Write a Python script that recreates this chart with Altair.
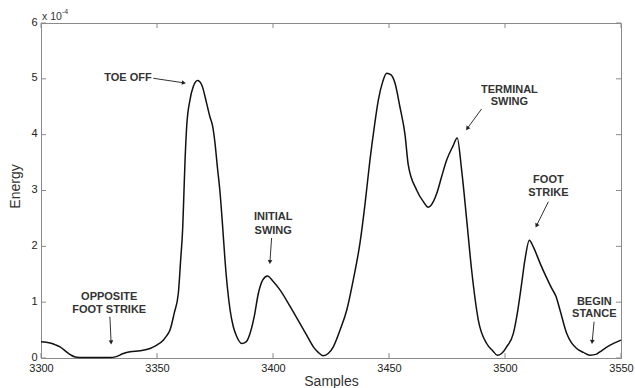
import math
import altair as alt
import pandas as pd

# ---- curve ----
samples = [3300.0, 3303.9, 3306.0, 3308.2, 3311.0, 3313.0, 3314.7, 3318.0, 3324.0, 3330.0,
           3332.0, 3335.5, 3338.4, 3342.7, 3347.0, 3349.9, 3352.7, 3354.2, 3355.6, 3357.4,
           3359.2, 3360.2, 3361.1, 3361.6, 3362.1, 3362.8, 3364.2, 3365.6, 3367.5, 3369.3,
           3371.4, 3372.8, 3374.0, 3375.0, 3376.0, 3377.2, 3378.3, 3379.3, 3380.3, 3381.5,
           3382.9, 3384.4, 3386.5, 3388.4, 3390.1, 3391.9, 3393.7, 3395.6, 3397.6, 3400.1,
           3403.0, 3407.3, 3411.6, 3414.5, 3417.4, 3419.5, 3421.7, 3423.8, 3426.0, 3428.9,
           3431.8, 3434.6, 3437.5, 3439.7, 3441.8, 3443.7, 3445.4, 3447.3, 3449.0, 3450.9,
           3452.6, 3454.7, 3456.9, 3458.3, 3461.9, 3464.8, 3466.9, 3469.1, 3470.6, 3472.7,
           3474.9, 3477.5, 3479.4, 3481.3, 3483.5, 3485.6, 3488.5, 3492.1, 3494.7, 3496.7,
           3498.5, 3500.7, 3503.6, 3505.3, 3507.2, 3508.6, 3510.5, 3512.2, 3515.1, 3518.0,
           3520.1, 3522.0, 3523.7, 3526.6, 3528.7, 3530.9, 3533.8, 3536.6, 3539.5, 3540.9,
           3545.3, 3550.0]
energy = [0.29, 0.27, 0.24, 0.20, 0.11, 0.05, 0.02, 0.01, 0.01, 0.01,
          0.02, 0.08, 0.11, 0.13, 0.17, 0.23, 0.32, 0.40, 0.50, 0.80,
          1.16, 1.76, 2.35, 2.95, 3.55, 4.15, 4.62, 4.86, 4.97, 4.89,
          4.56, 4.32, 4.15, 3.85, 3.43, 2.95, 2.35, 1.76, 1.28, 0.86,
          0.56, 0.38, 0.26, 0.29, 0.44, 0.74, 1.16, 1.40, 1.47, 1.37,
          1.22, 0.93, 0.62, 0.41, 0.20, 0.10, 0.04, 0.08, 0.20, 0.50,
          0.86, 1.40, 2.06, 2.77, 3.55, 4.15, 4.62, 4.95, 5.10, 5.07,
          4.92, 4.50, 4.00, 3.46, 3.01, 2.80, 2.70, 2.80, 2.95, 3.25,
          3.55, 3.79, 3.94, 3.37, 2.47, 1.58, 0.68, 0.26, 0.13, 0.05,
          0.08, 0.20, 0.44, 0.80, 1.34, 1.76, 2.11, 1.99, 1.70, 1.43,
          1.25, 1.10, 0.86, 0.44, 0.27, 0.17, 0.10, 0.05, 0.07, 0.11,
          0.23, 0.32]

x_ticks = [3300, 3350, 3400, 3450, 3500, 3550]
y_ticks = [0, 1, 2, 3, 4, 5, 6]

# ---- annotations (data coordinates) ----
label_text = ["TOE OFF", "INITIAL", "SWING", "TERMINAL", "SWING", "FOOT", "STRIKE",
              "BEGIN", "STANCE", "OPPOSITE", "FOOT STRIKE"]
label_x = [3337.5, 3400.1, 3400.1, 3501.9, 3501.9, 3518.7, 3518.7,
           3538.5, 3538.5, 3329.4, 3329.4]
label_y = [5.02, 2.53, 2.28, 4.80, 4.58, 3.19, 2.96,
           1.01, 0.78, 1.09, 0.86]

arrow_x1 = [3348.4, 3399.4, 3489.9, 3518.7, 3538.4, 3329.7]
arrow_y1 = [5.01, 2.15, 4.46, 2.80, 0.65, 0.74]
arrow_x2 = [3361.3, 3398.7, 3483.9, 3513.7, 3537.6, 3330.2]
arrow_y2 = [4.93, 1.73, 4.12, 2.38, 0.30, 0.29]

W, H = 580, 335
X_DOM = [3300, 3550]
Y_DOM = [0, 6]
AXIS_GRAY = "#8a8a8a"
FONT = "Liberation Sans"

curve = pd.DataFrame({"Samples": samples, "Energy": energy})
xt = pd.DataFrame({"t": x_ticks})
yt = pd.DataFrame({"t": y_ticks})
labels = pd.DataFrame({"text": label_text, "x": label_x, "y": label_y})

kx = W / (X_DOM[1] - X_DOM[0])
ky = H / (Y_DOM[1] - Y_DOM[0])
angles = []
for a, b, c, d in zip(arrow_x1, arrow_y1, arrow_x2, arrow_y2):
    dx = (c - a) * kx
    dy = -(d - b) * ky
    angles.append(math.degrees(math.atan2(dx, -dy)) % 360)
arrows = pd.DataFrame({"x1": arrow_x1, "y1": arrow_y1, "x2": arrow_x2, "y2": arrow_y2,
                       "angle": angles})

xs = alt.Scale(domain=X_DOM, nice=False, zero=False)
ys = alt.Scale(domain=Y_DOM, nice=False, zero=False)

line = alt.Chart(curve).mark_line(color="#111111", strokeWidth=1.5, interpolate="monotone").encode(
    x=alt.X("Samples:Q", scale=xs,
            axis=alt.Axis(values=x_ticks, format="d", ticks=False, grid=False,
                          domainColor=AXIS_GRAY,
                          labelFont=FONT, labelFontSize=11, labelColor="#222222",
                          labelPadding=4, title="Samples", titleFont=FONT,
                          titleFontSize=14, titleFontWeight="normal", titleColor="#333333",
                          titleY=23, titleBaseline="middle", labelFlush=False)),
    y=alt.Y("Energy:Q", scale=ys,
            axis=alt.Axis(values=y_ticks, format="d", ticks=False, grid=False,
                          domainColor=AXIS_GRAY, labelOffset=-1,
                          labelFont=FONT, labelFontSize=11, labelColor="#222222",
                          labelPadding=4, title="Energy", titleFont=FONT,
                          titleFontSize=14, titleFontWeight="normal", titleColor="#333333",
                          titleAngle=270, titleX=-26, titleY=163, titleAlign="center",
                          titleBaseline="middle", labelFlush=False)),
)

tick_style = dict(color=AXIS_GRAY, strokeWidth=1)
bottom_ticks = alt.Chart(xt).mark_rule(**tick_style).encode(
    x=alt.X("t:Q", scale=xs), y=alt.value(H), y2=alt.value(H - 5))
top_ticks = alt.Chart(xt).mark_rule(**tick_style).encode(
    x=alt.X("t:Q", scale=xs), y=alt.value(0), y2=alt.value(5))
left_ticks = alt.Chart(yt).mark_rule(**tick_style).encode(
    y=alt.Y("t:Q", scale=ys), x=alt.value(0), x2=alt.value(5))
right_ticks = alt.Chart(yt).mark_rule(**tick_style).encode(
    y=alt.Y("t:Q", scale=ys), x=alt.value(W), x2=alt.value(W - 5))

texts = alt.Chart(labels).mark_text(font=FONT, fontSize=11, fontWeight="bold",
                                     color="#333333", align="center", baseline="middle").encode(
    x=alt.X("x:Q", scale=xs), y=alt.Y("y:Q", scale=ys), text="text:N")

shafts = alt.Chart(arrows).mark_rule(color="#333333", strokeWidth=1).encode(
    x=alt.X("x1:Q", scale=xs), y=alt.Y("y1:Q", scale=ys),
    x2="x2:Q", y2="y2:Q")

heads = alt.Chart(arrows).mark_point(shape="triangle", filled=True, size=22, opacity=1,
                                     color="#222222").encode(
    x=alt.X("x2:Q", scale=xs), y=alt.Y("y2:Q", scale=ys),
    angle=alt.Angle("angle:Q", scale=None))

exp_base = alt.Chart(pd.DataFrame({"s": ["x 10"]})).mark_text(
    font=FONT, fontSize=10.5, color="#333333", align="left", baseline="middle").encode(
    x=alt.value(1), y=alt.value(-6), text="s:N")
exp_sup = alt.Chart(pd.DataFrame({"s": ["-4"]})).mark_text(
    font=FONT, fontSize=7, color="#333333", align="left", baseline="middle").encode(
    x=alt.value(21), y=alt.value(-11), text="s:N")

chart = alt.layer(line, bottom_ticks, top_ticks, left_ticks, right_ticks, shafts, heads,
                  texts, exp_base, exp_sup).properties(
    width=W, height=H, autosize="none",
    padding={"left": 41, "top": 23, "right": 14, "bottom": 30},
    background="white",
).configure_view(stroke=AXIS_GRAY, strokeWidth=1)

chart.save("out.html", embed_options={"renderer": "svg", "actions": False})
